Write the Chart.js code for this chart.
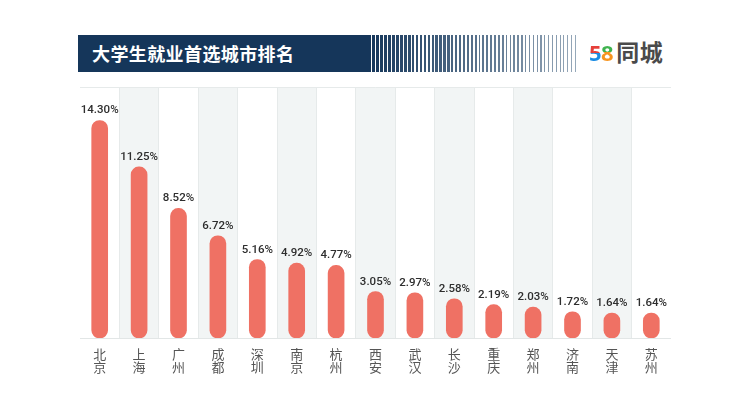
<!DOCTYPE html>
<html><head><meta charset="utf-8">
<script src="https://cdn.jsdelivr.net/npm/chart.js@4"></script>
<style>
body{margin:0;width:742px;height:417px;background:#fff;position:relative;overflow:hidden;font-family:"Noto Sans CJK SC",sans-serif;}
#hdr{position:absolute;left:78px;top:35px;width:290px;height:37px;background:#15365a;}
#title{position:absolute;left:92px;top:35px;height:37px;line-height:37px;color:#fff;font-size:18px;font-weight:bold;letter-spacing:0.4px;}
#stripes{position:absolute;left:368px;top:35px;height:37px;width:210px;}
#stripes div{position:absolute;top:0;height:37px;}
#logo{position:absolute;left:589px;top:35px;height:32px;line-height:32px;font-size:22px;font-weight:bold;white-space:nowrap;}
#logo .d{font-family:"Noto Sans",sans-serif;-webkit-background-clip:text;background-clip:text;color:transparent;letter-spacing:-0.5px;}
#logo .d5{background-image:linear-gradient(#e6403a 52%,#1b8ce3 52%);}
#logo .d8{background-image:linear-gradient(#3fb34f 50%,#f7941d 50%);}
#logo .t{color:#4a4a4a;font-family:"Noto Sans CJK SC";font-size:23px;margin-left:3px;letter-spacing:0.5px;}
#wrap{position:absolute;left:80px;top:87px;width:591px;height:296px;}
</style></head>
<body>
<div id="hdr"></div>
<div id="stripes"></div>
<div id="title">大学生就业首选城市排名</div>
<div id="logo"><span class="d d5">5</span><span class="d d8">8</span><span class="t">同城</span></div>
<div id="wrap"><canvas id="c"></canvas></div>
<script>
const cities = ['北京','上海','广州','成都','深圳','南京','杭州','西安','武汉','长沙','重庆','郑州','济南','天津','苏州'];
const shares = [14.30,11.25,8.52,6.72,5.16,4.92,4.77,3.05,2.97,2.58,2.19,2.03,1.72,1.64,1.64];
const valueLabels = ['14.30%','11.25%','8.52%','6.72%','5.16%','4.92%','4.77%','3.05%','2.97%','2.58%','2.19%','2.03%','1.72%','1.64%','1.64%'];

// decorative header stripes
(function(){
  const box = document.getElementById('stripes');
  let x = 0; const W = 208;
  while (x < W) {
    const t = x / W;
    const w = Math.max(1, 3.2 - t * 2.4);
    const g = 0.8 + t * 2.2;
    const r = Math.round(21 + (150 - 21) * t), gg = Math.round(54 + (168 - 54) * t), b = Math.round(90 + (185 - 90) * t);
    const d = document.createElement('div');
    d.style.left = x + 'px'; d.style.width = w + 'px';
    d.style.background = 'rgb(' + r + ',' + gg + ',' + b + ')';
    box.appendChild(d);
    x += w + g;
  }
})();

const colBg = {
  id: 'colBg',
  beforeDraw(chart) {
    const {ctx, chartArea: a, scales: {x}} = chart;
    ctx.save();
    const half = (x.getPixelForValue(1) - x.getPixelForValue(0)) / 2;
    ctx.fillStyle = '#f2f5f5';
    cities.forEach((c, i) => {
      if (i % 2 === 1) {
        const cx = x.getPixelForValue(i);
        ctx.fillRect(cx - half, a.top, half * 2, a.bottom - a.top);
      }
    });
    ctx.strokeStyle = '#e6eaea'; ctx.lineWidth = 1;
    ctx.beginPath(); ctx.moveTo(a.left, a.top + 0.5); ctx.lineTo(a.right, a.top + 0.5); ctx.stroke();
    ctx.restore();
  }
};
const valLabels = {
  id: 'valLabels',
  afterDatasetsDraw(chart) {
    const {ctx} = chart;
    const meta = chart.getDatasetMeta(0);
    ctx.save();
    ctx.fillStyle = '#2e2e2e';
    ctx.font = '500 11.5px Roboto';
    ctx.textAlign = 'center';
    ctx.textBaseline = 'alphabetic';
    meta.data.forEach((bar, i) => {
      ctx.fillText(valueLabels[i], bar.x, bar.y - 7);
    });
    ctx.restore();
  }
};

new Chart(document.getElementById('c'), {
  type: 'bar',
  data: {
    labels: cities,
    datasets: [{
      data: shares,
      backgroundColor: '#ef7164',
      borderRadius: 8,
      borderSkipped: false,
      barThickness: 16
    }]
  },
  options: {
    responsive: true,
    maintainAspectRatio: false,
    animation: false,
    layout: {padding: 0},
    plugins: {legend: {display: false}, tooltip: {enabled: false}},
    scales: {
      x: {
        offset: true,
        grid: {offset: true, color: '#e6eaea', drawTicks: false},
        border: {display: true, color: '#e2e6e6'},
        ticks: {
          color: '#555',
          font: {size: 13, family: '"Noto Sans CJK SC"', lineHeight: 1.0},
          padding: 10,
          maxRotation: 0,
          autoSkip: false,
          callback: (v, i) => cities[i].split('')
        },
        afterFit: (s) => { s.height = 45; }
      },
      y: {display: false, min: 0, max: 16.5}
    }
  },
  plugins: [colBg, valLabels]
});
</script>
</body></html>
